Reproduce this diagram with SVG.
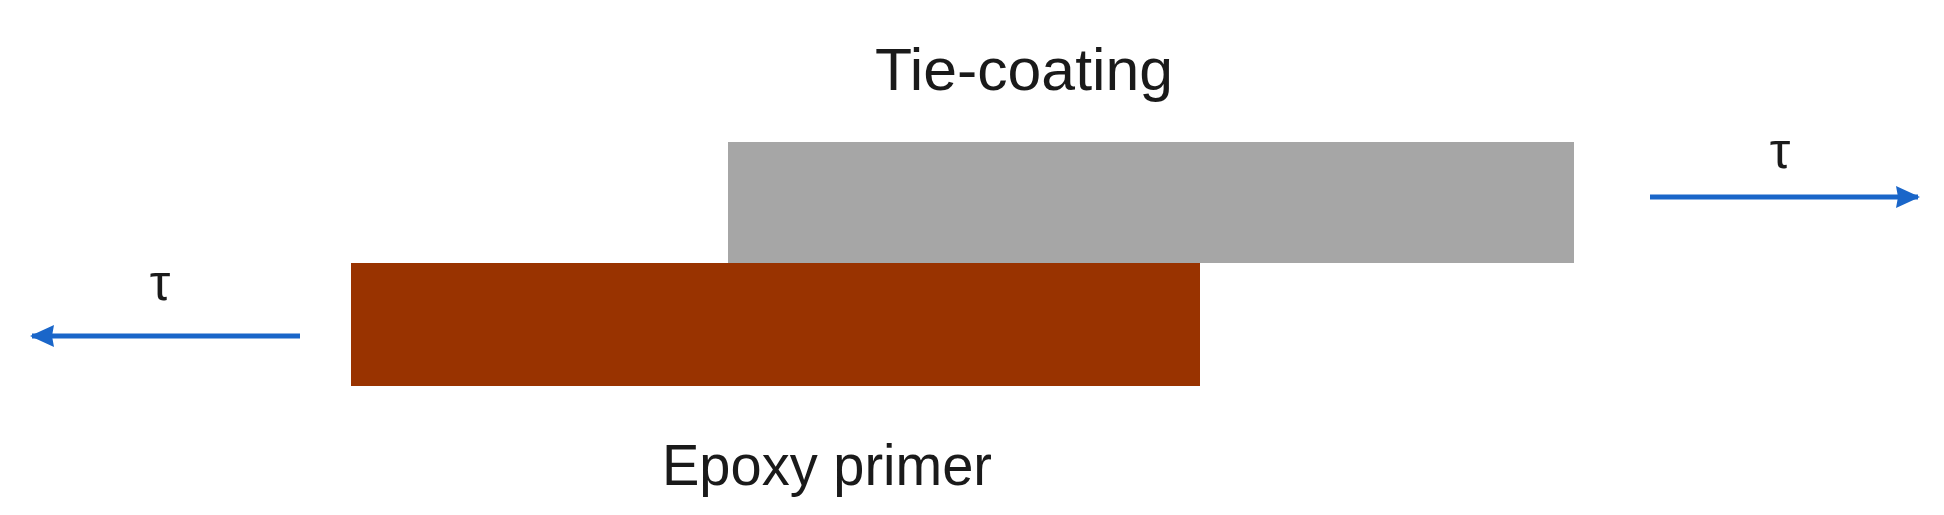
<svg xmlns="http://www.w3.org/2000/svg" width="1944" height="515" viewBox="0 0 1944 515">
<defs>
<style>
.lbl{font-family:"Liberation Sans","DejaVu Sans",sans-serif;fill:#1a1a1a}
.tau{font-family:"Liberation Sans","DejaVu Sans",sans-serif;font-size:52px;fill:#1a1a1a;text-anchor:middle}
.arr{stroke:#1a66c9;stroke-width:5;fill:none}
</style>
<marker id="ah2" viewBox="0 0 24 24" refX="22" refY="12" markerWidth="24" markerHeight="24" orient="auto" markerUnits="userSpaceOnUse">
<path d="M0,1 L24,12 L0,23 L2,12 Z" fill="#1a66c9"/>
</marker>
</defs>
<rect width="1944" height="515" fill="#ffffff"/>
<g id="tie-coating">
<rect x="728" y="142" width="846" height="121" fill="#a6a6a6"/>
<text class="lbl" x="1024" y="90" font-size="60" text-anchor="middle" textLength="298" lengthAdjust="spacingAndGlyphs">Tie-coating</text>
</g>
<g id="epoxy-primer">
<rect x="351" y="263" width="849" height="123" fill="#993300"/>
<text class="lbl" x="827" y="485" font-size="58" text-anchor="middle" textLength="330" lengthAdjust="spacingAndGlyphs">Epoxy primer</text>
</g>
<g id="connectors">
<line class="arr" x1="300" y1="336" x2="32" y2="336" marker-end="url(#ah2)"/>
<line class="arr" x1="1650" y1="197" x2="1918" y2="197" marker-end="url(#ah2)"/>
<text class="tau" x="160" y="300">τ</text>
<text class="tau" x="1780" y="168">τ</text>
</g>
</svg>
